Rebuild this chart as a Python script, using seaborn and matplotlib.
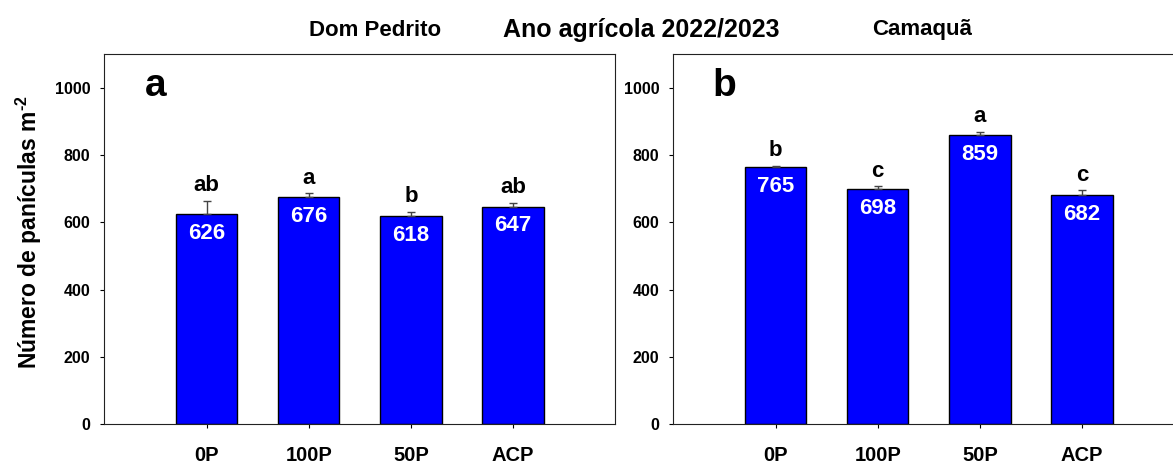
"""Número de panículas por m2 - Dom Pedrito x Camaquã, safra 2022/2023."""

import matplotlib
matplotlib.use("Agg")
import matplotlib.pyplot as plt
import seaborn as sns
import pandas as pd
import numpy as np

treatments = ["0P", "100P", "50P", "ACP"]

dom_pedrito_means = [626, 676, 618, 647]
dom_pedrito_err = [37, 10, 14, 11]
dom_pedrito_letters = ["ab", "a", "b", "ab"]

camaqua_means = [765, 698, 859, 682]
camaqua_err = [4, 9, 10, 13]
camaqua_letters = ["b", "c", "a", "c"]

sns.set_style("ticks")
plt.rcParams["font.family"] = ["Liberation Sans", "DejaVu Sans"]
plt.rcParams["font.weight"] = "bold"
plt.rcParams["text.color"] = "black"
plt.rcParams["xtick.color"] = "black"
plt.rcParams["ytick.color"] = "black"
plt.rcParams["axes.labelcolor"] = "black"
plt.rcParams["mathtext.fontset"] = "custom"
plt.rcParams["mathtext.bf"] = "Liberation Sans:bold"
plt.rcParams["mathtext.rm"] = "Liberation Sans:bold"
plt.rcParams["mathtext.default"] = "bf"

W, H = 1173, 463


def draw_panel(ax, means, errs, letters, panel):
    df = pd.DataFrame({"trat": treatments, "n": means})
    sns.barplot(data=df, x="trat", y="n", color="#0000ff", saturation=1,
                edgecolor="black", linewidth=1, width=0.6, errorbar=None, ax=ax)
    x = np.arange(len(treatments))
    ax.errorbar(x, means, yerr=[np.zeros(len(errs)), errs], fmt="none",
                ecolor="#444444", elinewidth=1, capsize=3, capthick=1)
    for xi, m, e, lt in zip(x, means, errs, letters):
        ax.annotate(str(m), (xi, m), xytext=(0, -14), textcoords="offset points",
                    ha="center", va="center", color="white", fontsize=16)
        ax.annotate(lt, (xi, m + e), xytext=(0, 7), textcoords="offset points",
                    ha="center", va="baseline", fontsize=16)
    ax.text(-0.5, 1005, panel, ha="center", va="center", fontsize=28)

    ax.set_xlim(-1, 4)
    ax.set_ylim(0, 1100)
    ax.set_yticks(range(0, 1001, 200))
    ax.set_xlabel("")
    ax.set_ylabel("")
    ax.tick_params(axis="y", labelsize=11.5, length=3, width=0.8, pad=7)
    ax.tick_params(axis="x", labelsize=14.5, length=3, width=0.8, pad=13)
    for s in ax.spines.values():
        s.set_linewidth(0.8)
        s.set_color("#222222")


fig = plt.figure(figsize=(W / 100, H / 100), dpi=100)
ax_a = fig.add_axes([104.3 / W, 39 / H, 511 / W, 369.7 / H])
ax_b = fig.add_axes([673.3 / W, 39 / H, 511 / W, 369.7 / H])

draw_panel(ax_a, dom_pedrito_means, dom_pedrito_err, dom_pedrito_letters, "a")
draw_panel(ax_b, camaqua_means, camaqua_err, camaqua_letters, "b")

fig.text(375 / W, 1 - 30.5 / H, "Dom Pedrito", ha="center", va="center", fontsize=16)
fig.text(641 / W, 1 - 29.5 / H, "Ano agrícola 2022/2023", ha="center", va="center", fontsize=18)
fig.text(922 / W, 1 - 29.5 / H, "Camaquã", ha="center", va="center", fontsize=16)
fig.text(29 / W, 1 - 232 / H, "Número de panículas m$^{\\text{-2}}$", rotation=90,
         ha="center", va="center", fontsize=16.5)

fig.savefig("out.png", dpi=100)
plt.close(fig)
